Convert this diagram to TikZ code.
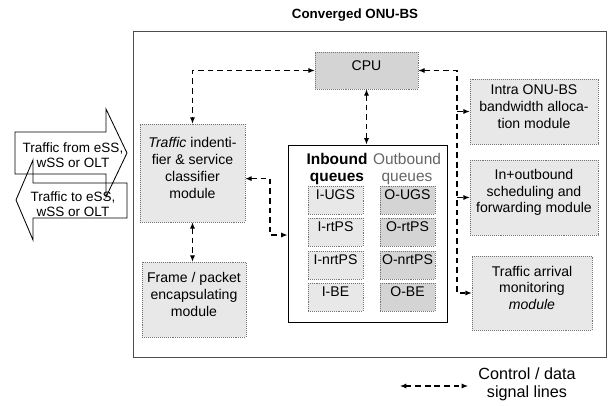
\documentclass[tikz,border=0pt]{standalone}
\usepackage{fontspec}
\setmainfont{Liberation Sans}
\usetikzlibrary{arrows.meta,fit}
\begin{document}
\begin{tikzpicture}[x=0.025cm,y=-0.025cm,
  mod/.style={draw=black!55, densely dotted, fill=black!9, inner sep=0pt, align=center,
     font=\fontsize{10}{12}\selectfont},
  dark/.style={mod, fill=black!17},
  qbox/.style={draw=black, line width=0.7pt, fill=white, inner sep=0pt},
  outerbox/.style={draw=black!70, line width=0.6pt, inner sep=0pt},
  sig/.style={line width=0.75pt, dash pattern=on 4pt off 2.8pt,
     arrows={-}, >={Latex[length=4.5pt,width=3.6pt]}},
  bigarrow/.style={draw=black, line width=0.6pt},
  atext/.style={align=center, font=\fontsize{9.6}{11}\selectfont},
  qhead/.style={align=center, font=\fontsize{11}{12.5}\selectfont},
  qtext/.style={font=\fontsize{10}{12}\selectfont}
]
\useasboundingbox (0,0) rectangle (608,406);

% outer box and title
\node[outerbox, fit={(133,31)(606,357)}] (outer) {};
\node[font=\bfseries\fontsize{9.5}{11}\selectfont] (title) at (355,15) {Converged ONU-BS};

% big traffic arrows
\fill[white] (15,132) -- (106,132) -- (106,109) -- (127,153) -- (106,197) -- (106,174) -- (15,174) -- cycle;
\fill[white] (127,183) -- (33,183) -- (33,160) -- (16,200) -- (33,240) -- (33,218) -- (127,218) -- cycle;
\draw[bigarrow] (15,132) -- (106,132) -- (106,109) -- (127,153) -- (106,197) -- (106,174) -- (15,174) -- cycle;
\draw[bigarrow] (127,183) -- (33,183) -- (33,160) -- (16,200) -- (33,240) -- (33,218) -- (127,218) -- cycle;
\node[atext] (from) at (73,155) {Traffic from eSS,\\wSS or OLT};
\node[atext] (to) at (73,204) {Traffic to eSS,\\wSS or OLT};

% modules
\node[dark, fit={(315,52)(418,89)}] (cpu) {CPU};
\node[mod, fit={(140,124)(245,222)}] (idf) {\itshape Traffic\upshape{} indenti-\\fier \& service\\classifier\\module};
\node[mod, fit={(142,262)(246,337)}] (frame) {Frame / packet\\encapsulating\\module};
\node[mod, fit={(470,79)(598,144)}] (intra) {Intra ONU-BS\\bandwidth alloca-\\tion module};
\node[mod, fit={(470,160)(598,235)}] (sched) {In+outbound\\scheduling and\\forwarding module};
\node[mod, fit={(472,256)(592,330)}] (arrival) {Traffic arrival\\monitoring\\\itshape module};

% queues
\node[qbox, fit={(288,145)(447,322)}] (queue) {};
\node[qhead, font=\bfseries\fontsize{11}{12.5}\selectfont] (inb) at (337,169) {Inbound\\queues};
\node[qhead, text=black!60] (outb) at (407,169) {Outbound\\queues};
\node[mod, qtext, fit={(308,186)(363,214)}] (iugs) {I-UGS};
\node[mod, qtext, fit={(308,218)(363,246)}] (irtps) {I-rtPS};
\node[mod, qtext, fit={(308,251)(363,279)}] (inrtps) {I-nrtPS};
\node[mod, qtext, fit={(308,283)(363,311)}] (ibe) {I-BE};
\node[dark, qtext, fit={(380,186)(435,214)}] (ougs) {O-UGS};
\node[dark, qtext, fit={(380,218)(435,246)}] (ortps) {O-rtPS};
\node[dark, qtext, fit={(380,251)(435,279)}] (onrtps) {O-nrtPS};
\node[dark, qtext, fit={(380,283)(435,311)}] (obe) {O-BE};

% signal lines
\draw[sig,<->] (cpu.west) -| (idf.north);
\draw[sig,<->] (cpu.south) -- (cpu.south |- queue.north);
\coordinate (bus) at (457,293);
\draw[sig,<->] (cpu.east) -| (bus) -- (arrival.west);
\draw[sig,->] (bus |- intra.west) -- (intra.west);
\draw[sig,->] (bus |- sched.west) -- (sched.west);
\coordinate (lbus) at (270,235);
\coordinate (lstart) at ([yshift=-4pt]idf.east);
\draw[sig,<->] (lstart) -| (lbus) -- (queue.west |- lbus);
\draw[sig,<->] (idf.south) -- (idf.south |- frame.north);

% legend
\coordinate (la) at (400,386);
\coordinate (lb) at (468,386);
\draw[sig,<->] (la) -- (lb);
\node[align=center, font=\fontsize{11.5}{13}\selectfont] (leg) at (527,384) {Control / data\\signal lines};
\end{tikzpicture}
\end{document}
